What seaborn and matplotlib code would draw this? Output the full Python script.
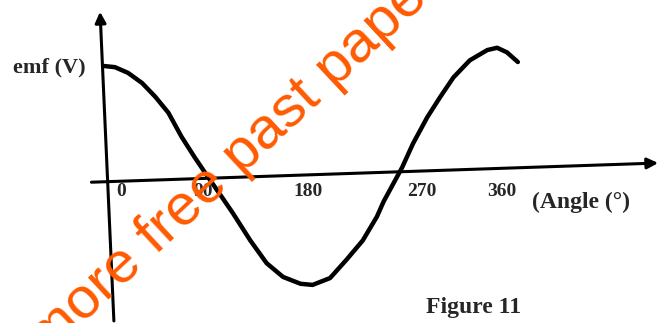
import pandas as pd
import seaborn as sns
import matplotlib.pyplot as plt

# emf curve read point by point off the (slightly tilted) scan, peak ~ 1
angle_deg = [0, 10, 22, 35, 47, 59, 71, 83, 95, 108, 118, 134, 149, 164, 180,
             191, 207, 222, 237, 250, 256, 273, 283, 296, 308, 320, 335, 351,
             360, 369, 379]
emf_v = [1.00, 0.99, 0.94, 0.85, 0.73, 0.59, 0.38, 0.20, 0.03, -0.15, -0.29, -0.53,
         -0.73, -0.85, -0.91, -0.92, -0.86, -0.70, -0.53, -0.32, -0.19, 0.11, 0.32,
         0.55, 0.73, 0.90, 1.05, 1.14, 1.16, 1.12, 1.035]
tick_angles = [0, 90, 180, 270, 360]
tick_labels = ["0", "90", "180", "270", "360"]
label_shift = [16, 1, 7, 21, 4]  # scan places labels a little right of the ticks

df = pd.DataFrame({"angle": angle_deg, "emf": emf_v})

sns.set_style("white")
plt.rcParams["font.family"] = ["Liberation Serif", "DejaVu Serif"]

fig = plt.figure(figsize=(6.63, 3.23), dpi=100)
ax = fig.add_axes([0, 0, 1, 1])
ax.set_xlim(-95.2, 511.9)
ax.set_ylim(-1.254, 1.579)
ax.axis("off")

# axes drawn like the scan, with arrow heads
ax.annotate("", xy=(510, 0.15), xytext=(-14, -0.02),
            arrowprops=dict(arrowstyle="-|>", color="black", lw=2.2,
                            mutation_scale=16))
ax.annotate("", xy=(-3.7, 1.5), xytext=(9.2, -1.26),
            arrowprops=dict(arrowstyle="-|>", color="black", lw=2.2,
                            mutation_scale=16))

sns.lineplot(data=df, x="angle", y="emf", ax=ax, color="black", linewidth=3.2)

for a, lab, dx in zip(tick_angles, tick_labels, label_shift):
    ax.text(a + dx, -0.1, lab, ha="center", va="center", fontsize=14, fontweight="bold")

ax.text(-50, 0.99, "emf (V)", ha="center", va="center", fontsize=16, fontweight="bold")
ax.text(437, -0.2, "(Angle (°)", ha="center", va="center", fontsize=17, fontweight="bold")
ax.text(338, -1.12, "Figure 11", ha="center", va="center", fontsize=17, fontweight="bold")

# orange watermark across the scan
ax.text(139, 0.155, "more free past papers", rotation=43, rotation_mode="anchor",
        ha="center", va="baseline", fontsize=42, color="#ff5a00",
        family=["Liberation Sans", "DejaVu Sans"], zorder=5)

fig.savefig("out.png", dpi=100)
